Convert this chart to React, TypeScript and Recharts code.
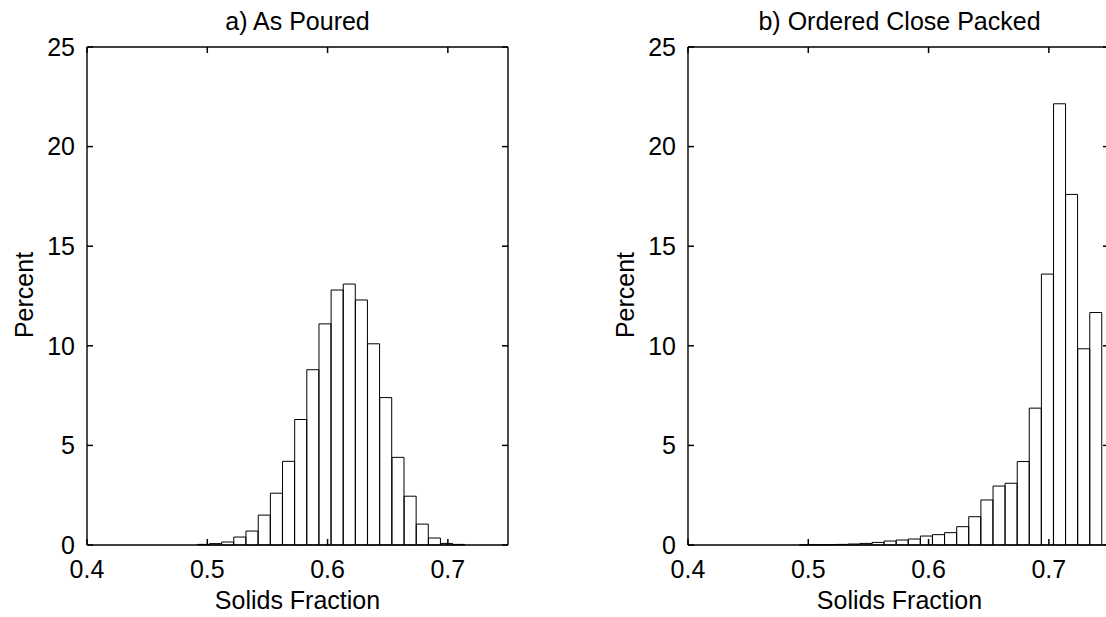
import { Bar, BarChart, ReferenceLine, XAxis, YAxis } from "recharts";

// bin centres (solids fraction) and percent per bin
const pouredBins = [
  0.4968, 0.5069, 0.517, 0.5271, 0.5372, 0.5474, 0.5575, 0.5676, 0.5777, 0.5878, 0.5979,
  0.608, 0.6181, 0.6282, 0.6383, 0.6484, 0.6586, 0.6687, 0.6788, 0.6889, 0.699, 0.7091,
];
const pouredPercent = [
  0.03, 0.07, 0.15, 0.4, 0.7, 1.5, 2.6, 4.2, 6.3, 8.8, 11.1,
  12.8, 13.1, 12.3, 10.1, 7.4, 4.4, 2.45, 1.05, 0.35, 0.08, 0.03,
];

const packedBins = [
  0.4976, 0.5077, 0.5177, 0.5278, 0.5378, 0.5479, 0.558, 0.568, 0.5781, 0.5881, 0.5982,
  0.6083, 0.6183, 0.6284, 0.6384, 0.6485, 0.6586, 0.6686, 0.6787, 0.6887, 0.6988, 0.7089,
  0.7189, 0.729, 0.739,
];
const packedPercent = [
  0.01, 0.01, 0.02, 0.03, 0.05, 0.08, 0.13, 0.2, 0.25, 0.3, 0.45,
  0.52, 0.62, 0.92, 1.42, 2.26, 2.96, 3.1, 4.19, 6.87, 13.6, 22.15,
  17.6, 9.85, 11.67,
];

const xTicks = [0.4, 0.5, 0.6, 0.7];
const yTicks = [0, 5, 10, 15, 20, 25];
const xDomain: [number, number] = [0.4, 0.75];
const yDomain: [number, number] = [0, 25];

const FONT = "'Liberation Sans', Arial, Helvetica, sans-serif";
const FS = 25;
const txt = { fontSize: FS, fill: "#000", fontFamily: FONT };
const frame = { stroke: "#000", strokeWidth: 1.4 };

// inward tick length in data units (~6px in each direction)
const X_TICK_LEN = 0.005;
const Y_TICK_LEN = 0.3;

function Histogram({ bins, values }: { bins: number[]; values: number[] }) {
  const data = bins.map((x, i) => ({ x, pct: values[i] }));
  const tickLines = [
    ...xTicks.map((x) => [{ x, y: yDomain[0] }, { x, y: yDomain[0] + Y_TICK_LEN }]),
    ...xTicks.map((x) => [{ x, y: yDomain[1] }, { x, y: yDomain[1] - Y_TICK_LEN }]),
    ...yTicks.map((y) => [{ x: xDomain[0], y }, { x: xDomain[0] + X_TICK_LEN, y }]),
    ...yTicks.map((y) => [{ x: xDomain[1], y }, { x: xDomain[1] - X_TICK_LEN, y }]),
  ];
  return (
    <BarChart
      width={560}
      height={617}
      data={data}
      barCategoryGap={0}
      barGap={0}
      margin={{ top: 46, right: 51, bottom: 42, left: 27 }}
    >
      <XAxis
        dataKey="x"
        type="number"
        domain={xDomain}
        ticks={xTicks}
        allowDataOverflow
        height={30}
        tickSize={0}
        tickMargin={15}
        tickLine={false}
        tick={txt}
        axisLine={frame}
      />
      <XAxis
        xAxisId="top"
        orientation="top"
        type="number"
        domain={xDomain}
        ticks={xTicks}
        allowDataOverflow
        height={1}
        tick={false}
        tickLine={false}
        axisLine={frame}
      />
      <YAxis
        type="number"
        domain={yDomain}
        ticks={yTicks}
        width={60}
        tickSize={0}
        tickMargin={12}
        tickLine={false}
        tick={txt}
        axisLine={frame}
      />
      <YAxis
        yAxisId="right"
        orientation="right"
        type="number"
        domain={yDomain}
        ticks={yTicks}
        width={1}
        tick={false}
        tickLine={false}
        axisLine={frame}
      />
      <Bar dataKey="pct" fill="none" stroke="#000" strokeWidth={1} isAnimationActive={false} />
      {tickLines.map((seg, i) => (
        <ReferenceLine key={i} segment={seg} stroke="#000" strokeWidth={1.5} ifOverflow="visible" />
      ))}
    </BarChart>
  );
}

export default function App() {
  return (
    <div
      style={{
        position: "absolute",
        left: 0,
        top: 0,
        width: 1106,
        height: 617,
        overflow: "hidden",
        background: "#fff",
      }}
    >
      <div style={{ position: "absolute", left: 0, top: 0 }}>
        <Histogram bins={pouredBins} values={pouredPercent} />
      </div>
      <div style={{ position: "absolute", left: 601, top: 0 }}>
        <Histogram bins={packedBins} values={packedPercent} />
      </div>
      <svg
        width={1106}
        height={617}
        style={{ position: "absolute", left: 0, top: 0, pointerEvents: "none" }}
      >
        <text x={297.5} y={30} textAnchor="middle" {...txt}>a) As Poured</text>
        <text x={899.5} y={30} textAnchor="middle" {...txt}>b) Ordered Close Packed</text>
        <text x={297.5} y={609} textAnchor="middle" {...txt}>Solids Fraction</text>
        <text x={899.5} y={609} textAnchor="middle" {...txt}>Solids Fraction</text>
        <text x={33} y={295} textAnchor="middle" transform="rotate(-90 33 295)" {...txt}>Percent</text>
        <text x={634} y={295} textAnchor="middle" transform="rotate(-90 634 295)" {...txt}>Percent</text>
      </svg>
    </div>
  );
}
